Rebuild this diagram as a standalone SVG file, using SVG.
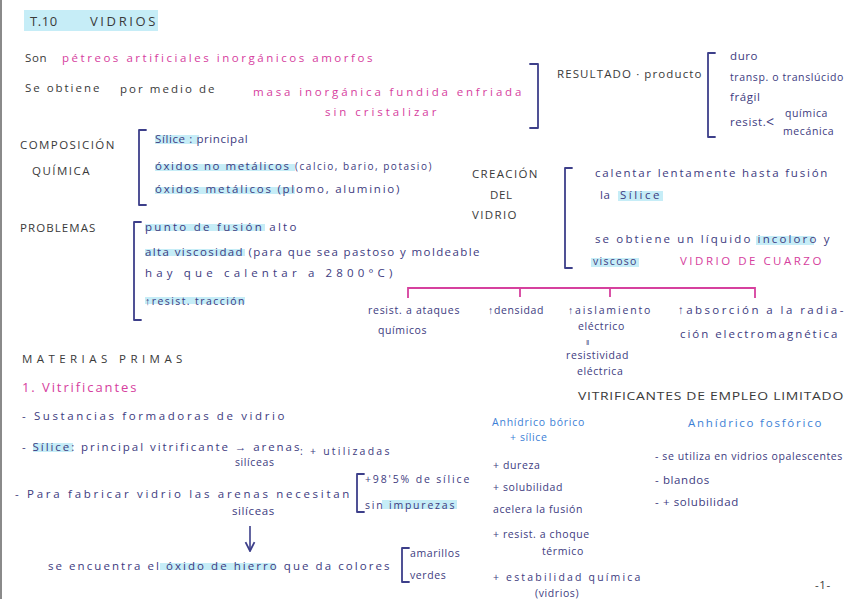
<svg xmlns="http://www.w3.org/2000/svg" width="848" height="599" viewBox="0 0 848 599">
<style>
text{font-family:"Open Sans","Liberation Sans",sans-serif;font-size:11.5px;fill:#3d3b80;letter-spacing:0.6px}
.k{fill:#3a3a3a}
.m{fill:#d6409e}
.b{fill:#3d7fd6}
.s{font-size:10.5px}
.hl{fill:#c6edf7}
.br{fill:none;stroke:#3d3f8a;stroke-width:1.8;stroke-linecap:round;stroke-linejoin:round}
.tree{fill:none;stroke:#d6409e;stroke-width:1.8}
</style>
<defs>
<marker id="ah" viewBox="0 0 10 10" refX="9" refY="5" markerWidth="7" markerHeight="7" orient="auto"><path d="M1,1 L9,5 L1,9" fill="none" stroke="#3d3f8a" stroke-width="1.6"/></marker>
</defs>
<rect x="0" y="0" width="848" height="599" fill="#ffffff"/>
<rect x="0" y="0" width="2" height="599" fill="#8a8a8a"/>

<g id="title">
<rect x="24" y="10" width="134" height="21" class="hl"/>
<text x="30" y="26" class="k" style="font-size:13px">T.10</text>
<text x="90" y="26" class="k" style="font-size:13px" textLength="66">VIDRIOS</text>
</g>

<g id="definicion">
<text x="25" y="62" class="k">Son</text>
<text x="62" y="62" class="m" textLength="311" lengthAdjust="spacing">pétreos  artificiales  inorgánicos  amorfos</text>
<text x="25" y="92" class="k" textLength="75">Se obtiene</text>
<text x="120" y="93" class="k" textLength="95" lengthAdjust="spacing">por medio de</text>
<text x="253" y="96" class="m" textLength="269" lengthAdjust="spacing">masa inorgánica fundida enfriada</text>
<text x="325" y="116" class="m" textLength="112" lengthAdjust="spacing">sin cristalizar</text>
<path class="br" d="M530,64 H538 V128 H530"/>
</g>

<g id="resultado">
<text x="557" y="78" class="k" textLength="145" lengthAdjust="spacing">RESULTADO · producto</text>
<path class="br" d="M715,53 H708 V137 H715"/>
<text x="730" y="60">duro</text>
<text x="730" y="81" class="s" textLength="114" lengthAdjust="spacingAndGlyphs">transp. o translúcido</text>
<text x="730" y="101">frágil</text>
<text x="730" y="126">resist.</text>
<text x="766" y="127" style="font-size:14px">&lt;</text>
<text x="785" y="117" style="font-size:10.5px">química</text>
<text x="783" y="135" style="font-size:10.5px">mecánica</text>
</g>

<g id="composicion">
<text x="20" y="149" class="k" textLength="95" lengthAdjust="spacing">COMPOSICIÓN</text>
<text x="32" y="175" class="k" textLength="58" lengthAdjust="spacing">QUÍMICA</text>
<path class="br" d="M146,130 H139 V205 H146"/>
<rect x="155" y="135" width="44" height="9" class="hl"/>
<text x="155" y="143">Sílice :  principal</text>
<rect x="155" y="164" width="140" height="7" class="hl"/>
<text x="155" y="170" textLength="277" lengthAdjust="spacing">óxidos  no  metálicos  <tspan style="font-size:10px">(calcio, bario, potasio)</tspan></text>
<rect x="155" y="187" width="140" height="7" class="hl"/>
<text x="155" y="193" textLength="245" lengthAdjust="spacing">óxidos  metálicos  (plomo, aluminio)</text>
</g>

<g id="problemas">
<text x="20" y="232" class="k" textLength="76" lengthAdjust="spacing">PROBLEMAS</text>
<path class="br" d="M141,222 H134 V320 H141"/>
<rect x="145" y="224" width="120" height="7" class="hl"/>
<text x="145" y="231" textLength="152" lengthAdjust="spacing">punto  de  fusión  alto</text>
<rect x="145" y="249" width="100" height="7" class="hl"/>
<text x="145" y="256" textLength="335" lengthAdjust="spacing">alta viscosidad (para que sea pastoso y moldeable</text>
<text x="145" y="277" textLength="248" lengthAdjust="spacing">hay que calentar  a  2800°C)</text>
<rect x="145" y="297" width="100" height="7" class="hl"/>
<text x="145" y="305" class="s" textLength="100" lengthAdjust="spacing">↑resist. tracción</text>
</g>

<g id="creacion">
<text x="472" y="178" class="k" textLength="66" lengthAdjust="spacing">CREACIÓN</text>
<text x="490" y="199" class="k">DEL</text>
<text x="472" y="219" class="k" textLength="45" lengthAdjust="spacing">VIDRIO</text>
<path class="br" d="M572,168 H565 V268 H572"/>
<text x="595" y="177" textLength="233" lengthAdjust="spacing">calentar  lentamente  hasta  fusión</text>
<text x="600" y="199">la</text>
<rect x="618" y="191" width="45" height="10" class="hl"/>
<text x="620" y="199" textLength="40" lengthAdjust="spacing">Sílice</text>
<rect x="756" y="236" width="58" height="9" class="hl"/>
<text x="595" y="243" textLength="235" lengthAdjust="spacing">se  obtiene  un  líquido  incoloro  y</text>
<rect x="591" y="258" width="48" height="9" class="hl"/>
<text x="593" y="265" class="s" textLength="44" lengthAdjust="spacing">viscoso</text>
<text x="680" y="265" class="m" textLength="142" lengthAdjust="spacing">VIDRIO  DE  CUARZO</text>
</g>

<g id="connectors">
<path class="tree" d="M408,298 V288 H755 V298 M520,288 V297 M610,288 V297"/>
<path d="M250,526 V551" fill="none" stroke="#3d3f8a" stroke-width="1.6" marker-end="url(#ah)"/>
</g>

<g id="propiedades">
<text x="368" y="314" class="s" textLength="92" lengthAdjust="spacing">resist. a ataques</text>
<text x="378" y="334" class="s">químicos</text>
<text x="488" y="314" class="s" textLength="56" lengthAdjust="spacing">↑densidad</text>
<text x="568" y="314" class="s" textLength="83" lengthAdjust="spacing">↑aislamiento</text>
<text x="578" y="330" class="s">eléctrico</text>
<text x="586" y="345" style="font-size:8px">‖</text>
<text x="566" y="359" class="s">resistividad</text>
<text x="577" y="375" class="s">eléctrica</text>
<text x="678" y="314" textLength="166" lengthAdjust="spacing">↑absorción  a  la  radia-</text>
<text x="680" y="338" textLength="158" lengthAdjust="spacing">ción  electromagnética</text>
</g>

<g id="materias">
<text x="22" y="363" class="k" textLength="161" lengthAdjust="spacing">MATERIAS   PRIMAS</text>
<text x="22" y="392" class="m" style="font-size:13px" textLength="115" lengthAdjust="spacing">1. Vitrificantes</text>
<text x="22" y="420" textLength="263" lengthAdjust="spacing">- Sustancias  formadoras  de  vidrio</text>
<rect x="33" y="443" width="40" height="9" class="hl"/>
<text x="22" y="451" textLength="278" lengthAdjust="spacing">- Sílice: principal  vitrificante  → arenas</text>
<text x="235" y="466" class="s">silíceas</text>
<text x="300" y="455" class="s" textLength="90" lengthAdjust="spacing">: + utilizadas</text>
<text x="15" y="498" textLength="335" lengthAdjust="spacing">- Para  fabricar  vidrio  las  arenas  necesitan</text>
<text x="232" y="515">silíceas</text>
<path class="br" d="M364,474 H357 V512 H364"/>
<text x="365" y="483" class="s" textLength="105" lengthAdjust="spacing">+98'5% de sílice</text>
<rect x="382" y="500" width="75" height="9" class="hl"/>
<text x="365" y="509" class="s" textLength="90" lengthAdjust="spacing">sin  impurezas</text>
<rect x="160" y="563" width="115" height="7" class="hl"/>
<text x="48" y="570" textLength="342" lengthAdjust="spacing">se  encuentra  el  óxido  de  hierro  que  da  colores</text>
<path class="br" d="M409,548 H402 V582 H409"/>
<text x="410" y="557" class="s">amarillos</text>
<text x="410" y="579" class="s">verdes</text>
</g>

<g id="limitado">
<text x="578" y="400" class="k" textLength="266" lengthAdjust="spacingAndGlyphs">VITRIFICANTES  DE  EMPLEO  LIMITADO</text>
<text x="492" y="426" class="b s" textLength="93" lengthAdjust="spacing">Anhídrico  bórico</text>
<text x="510" y="441" class="b s">+ sílice</text>
<text x="688" y="427" class="b" textLength="134" lengthAdjust="spacing">Anhídrico  fosfórico</text>
<text x="493" y="469" class="s">+ dureza</text>
<text x="493" y="491" class="s">+ solubilidad</text>
<text x="493" y="513" class="s">acelera la fusión</text>
<text x="493" y="538" class="s">+ resist. a choque</text>
<text x="542" y="555" class="s">térmico</text>
<text x="493" y="581" class="s" textLength="148" lengthAdjust="spacing">+ estabilidad química</text>
<text x="535" y="597" class="s">(vidrios)</text>
<text x="655" y="460" class="s" textLength="188" lengthAdjust="spacingAndGlyphs">-  se  utiliza  en  vidrios  opalescentes</text>
<text x="655" y="484">-  blandos</text>
<text x="655" y="506">-  + solubilidad</text>
<text x="815" y="589" class="k">-1-</text>
</g>
</svg>
